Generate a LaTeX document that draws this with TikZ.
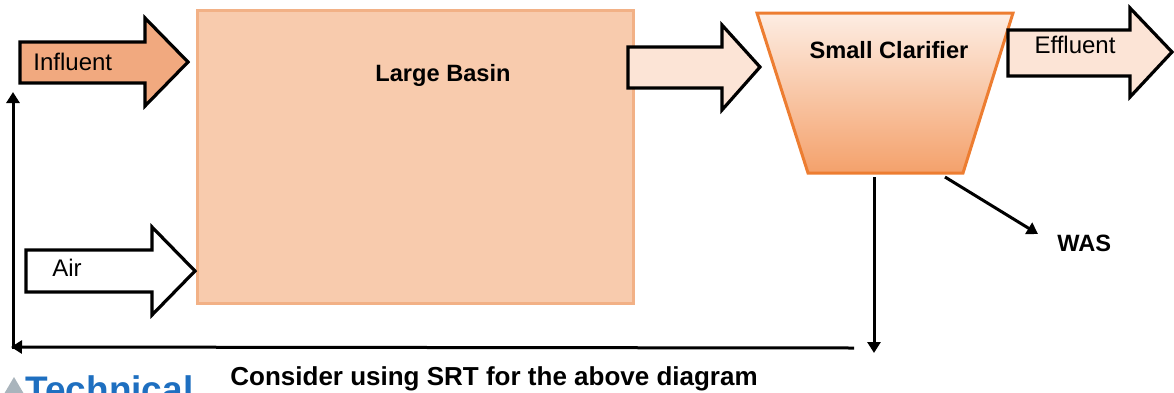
\documentclass[tikz,border=0pt]{standalone}
\usepackage{fontspec}
\setmainfont{Liberation Sans}
\usetikzlibrary{arrows.meta}
\definecolor{basinfill}{HTML}{F8CBAD}
\definecolor{basinedge}{HTML}{F2B186}
\definecolor{inflfill}{HTML}{F1A97F}
\definecolor{lightfill}{HTML}{FCE4D6}
\definecolor{clartop}{HTML}{FDEDE3}
\definecolor{clarmid}{HTML}{F9D2BA}
\definecolor{clarbot}{HTML}{F4A16B}
\definecolor{claredge}{HTML}{ED7D31}
\definecolor{logoblue}{HTML}{1E6FC0}
\definecolor{logogrey}{HTML}{A9B4BC}
\tikzset{
  blockarrow/.style={draw=black, line width=1.6pt, line join=miter},
  conn/.style={draw=black, line width=1.5pt, -{Triangle[length=5.5pt,width=6.5pt]}},
  lbl/.style={inner sep=0pt, font=\fontsize{12}{14}\selectfont},
  blbl/.style={inner sep=0pt, font=\fontsize{11.8}{14}\selectfont\bfseries},
}
\begin{document}
\begin{tikzpicture}[x=0.5pt,y=-0.5pt]
\useasboundingbox (0,0) rectangle (1174,392);
\clip (0,0) rectangle (1174,392);
% Large basin
\node (basin) [draw=basinedge, fill=basinfill, line width=1.5pt, minimum width=218pt, minimum height=146.5pt, inner sep=0pt] at (415,156.5) {};
\node (basinlbl) [blbl] at (443,75) {Large Basin};
% Influent arrow
\draw[blockarrow, fill=inflfill] (20,42) -- (145,42) -- (145,18) -- (188,62) -- (145,106) -- (145,83) -- (20,83) -- cycle;
\node (infl) [lbl, anchor=west] at (33,62) {Influent};
% Air arrow
\draw[blockarrow, fill=white] (26,250) -- (152,250) -- (152,227) -- (195,271) -- (152,315) -- (152,292) -- (26,292) -- cycle;
\node (air) [lbl, anchor=west] at (52,268) {Air};
% Basin to clarifier arrow
\draw[blockarrow, fill=lightfill] (628,47) -- (722,47) -- (722,25) -- (760,67) -- (722,110) -- (722,88) -- (628,88) -- cycle;
% Clarifier
\draw[draw=claredge, line width=1.5pt, top color=clartop, middle color=clarmid, bottom color=clarbot] (757,13) -- (1013,13) -- (963,173) -- (808,173) -- cycle;
\node (clar) [blbl] at (889,50) {Small Clarifier};
% Effluent arrow
\draw[blockarrow, fill=lightfill] (1008,30) -- (1130,30) -- (1130,8) -- (1172,52) -- (1130,97) -- (1130,76) -- (1008,76) -- cycle;
\node (effl) [lbl] at (1075,45) {Effluent};
% Connectors
\coordinate (cbot) at (874,177);
\coordinate (cdown) at (874,353);
\coordinate (rstart) at (854,348);
\coordinate (rleft) at (11,347);
\coordinate (vbot) at (13,349);
\coordinate (vtop) at (13,92);
\coordinate (wstart) at (945,177);
\coordinate (wend) at (1038,234);
\draw[conn] (cbot) -- (cdown);
\draw[conn] (rstart) -- (rleft);
\draw[conn] (vbot) -- (vtop);
\draw[conn] (wstart) -- (wend);
\node (was) [blbl, anchor=west] at (1057,243) {WAS};
% Caption
\node (caption) [inner sep=0pt, anchor=west, font=\fontsize{13}{15}\selectfont\bfseries] at (230,379) {Consider using SRT for the above diagram};
% Logo (cut off at the lower edge, as in the reference)
\fill[logogrey] (4,394) -- (14,377) -- (24,394) -- cycle;
\node (logo) [inner sep=0pt, anchor=base west, text=logoblue, font=\fontsize{18.5}{20}\selectfont\bfseries] at (25,402) {Technical};
\end{tikzpicture}
\end{document}
